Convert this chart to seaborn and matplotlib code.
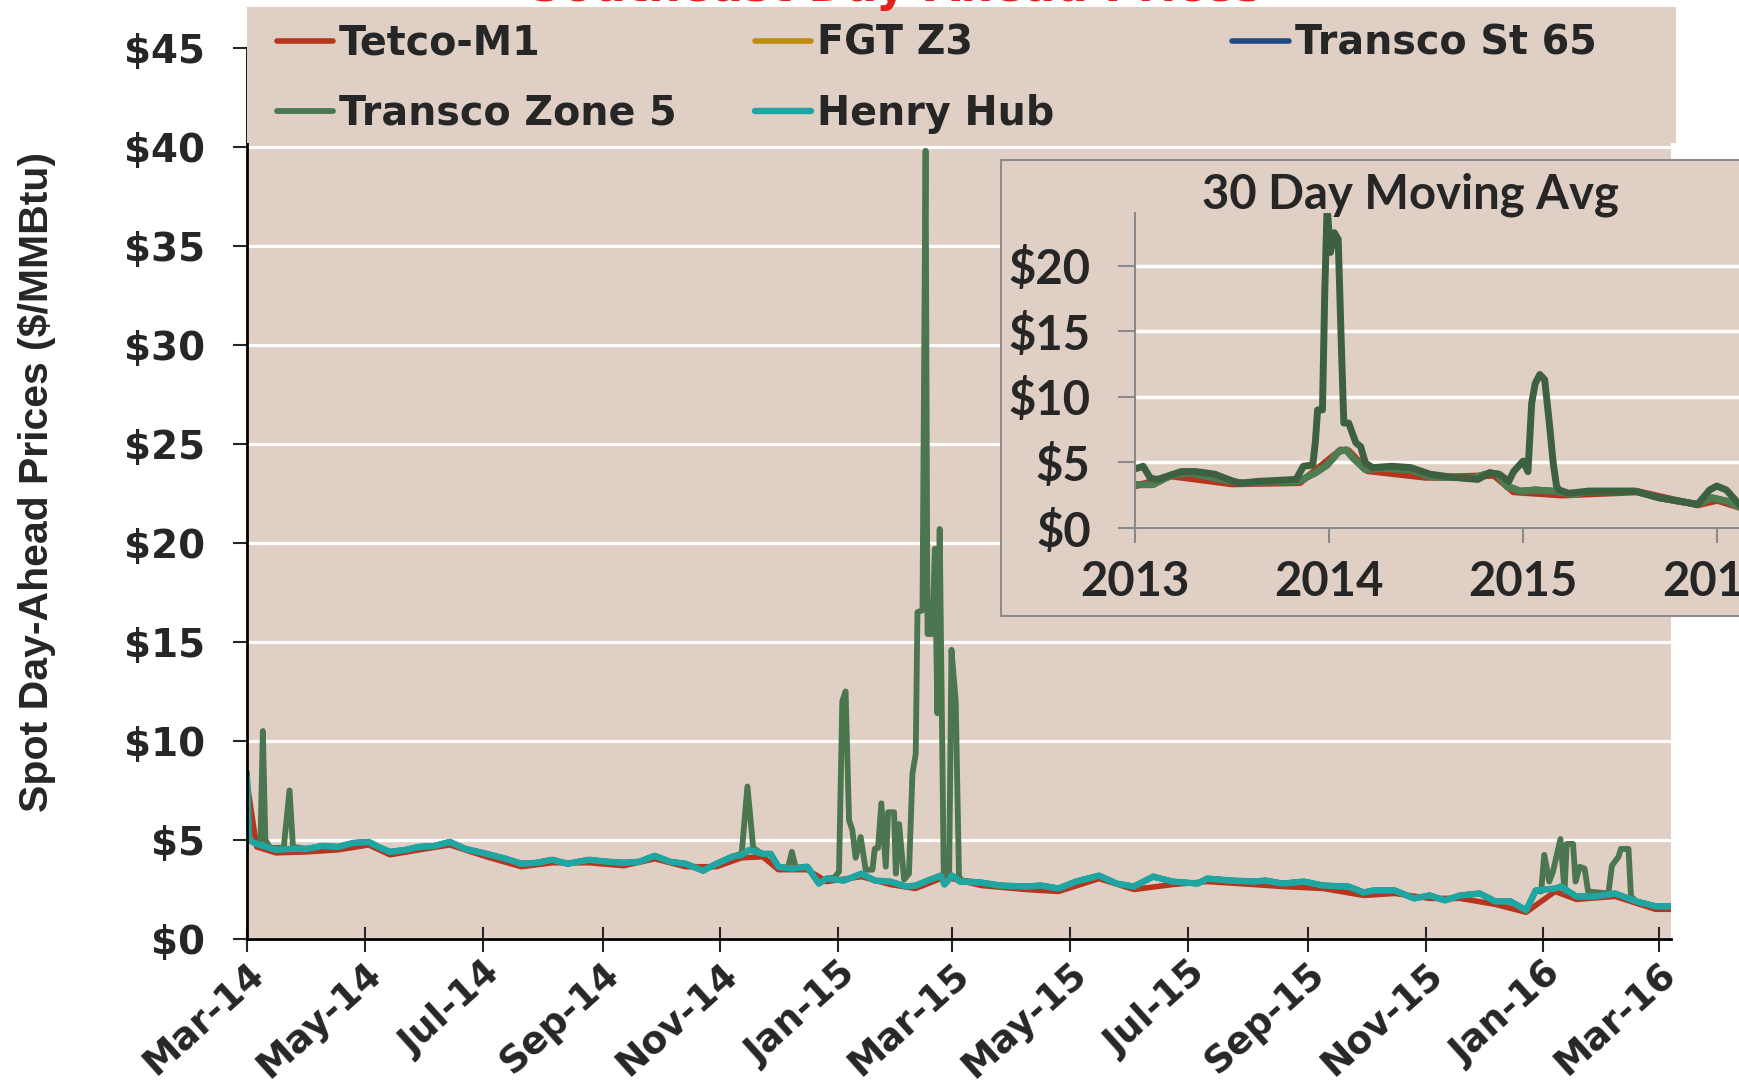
import pandas as pd
import matplotlib.pyplot as plt
import matplotlib.dates as mdates
from matplotlib.patches import Rectangle
from matplotlib.ticker import FuncFormatter
import seaborn as sns

sns.set_style('white')
plt.rcParams['font.family'] = ['DejaVu Sans']

BG = '#e0cfc4'
W, H = 1739, 1086

# -- данные: дни от 1 марта 2014 --
start = pd.Timestamp('2014-03-01')

hh_day = [0, 1, 5, 10, 15, 23, 31, 39, 47, 55, 63, 68, 74, 82, 89, 97, 105, 113, 124, 134,
          142, 150, 158, 166, 177, 187, 195, 203, 211, 219, 227, 236, 243, 251, 256, 260, 267, 271, 275, 282,
          290, 296, 300, 309, 318, 325, 333, 341, 346, 351, 359, 361, 365, 369, 380, 390, 403, 411, 420, 429,
          441, 450, 459, 469, 479, 492, 497, 510, 521, 527, 536, 547, 557, 570, 578, 583, 594, 604, 612, 620,
          628, 638, 646, 654, 662, 667, 677, 680, 688, 698, 708, 719, 729, 737]
hh_val = [8.1, 5.0, 4.8, 4.65, 4.5, 4.55, 4.55, 4.7, 4.65, 4.85, 4.9, 4.65, 4.4, 4.5, 4.65, 4.7, 4.9, 4.55, 4.3, 4.05,
          3.8, 3.85, 4.0, 3.8, 4.0, 3.9, 3.85, 3.9, 4.2, 3.9, 3.8, 3.45, 3.8, 4.15, 4.25, 4.5, 4.3, 4.3, 3.65, 3.55,
          3.65, 2.8, 3.05, 2.95, 3.3, 2.95, 2.9, 2.65, 2.7, 2.9, 3.2, 2.75, 3.2, 2.9, 2.85, 2.7, 2.65, 2.7, 2.55, 2.9,
          3.2, 2.8, 2.65, 3.15, 2.9, 2.8, 3.05, 2.95, 2.9, 2.95, 2.8, 2.9, 2.7, 2.65, 2.35, 2.45, 2.45, 2.05, 2.2, 1.95,
          2.2, 2.3, 1.9, 1.9, 1.45, 2.45, 2.55, 2.65, 2.15, 2.15, 2.3, 1.9, 1.65, 1.65]

tetco_day = [0, 5, 15, 31, 47, 63, 74, 89, 105, 124, 142, 158, 177, 195, 211, 227, 243, 256, 267, 275,
             290, 300, 318, 333, 346, 359, 365, 380, 403, 420, 441, 459, 479, 497, 521, 536, 557, 578, 594, 612,
             628, 646, 662, 677, 688, 708, 729, 737]
tetco_val = [7.9, 4.65, 4.35, 4.4, 4.5, 4.75, 4.25, 4.5, 4.75, 4.15, 3.65, 3.85, 3.85, 3.7, 4.05, 3.65, 3.65, 4.1,
             4.15, 3.5, 3.5, 2.9, 3.15, 2.75, 2.55, 3.05, 3.05, 2.7, 2.5, 2.4, 3.05, 2.5, 2.75, 2.9, 2.75, 2.65,
             2.55, 2.2, 2.3, 2.05, 2.05, 1.75, 1.35, 2.4, 2.0, 2.15, 1.5, 1.5]

# всплески Transco Zone 5
tz5_day = [0, 1, 5, 7, 8.2, 9.5, 12, 19, 22, 23.8,
           254, 256, 259, 262, 265,
           280, 282, 284,
           304, 306.4, 308.1, 309.8, 311.6, 313.3, 315, 317.6, 320.2, 323.7, 324.9, 326.6, 328.3, 330.6, 331.8,
           334.9, 335.8, 337.5, 340.1, 342.6, 344.4, 346.1, 347, 349.6, 351.2, 352.2, 354.7, 356, 357.3, 358.5,
           360.6, 363.4, 364.6, 366.8, 368.5, 370,
           667, 669.8, 671.4, 674, 675.9, 679.8, 681.9, 683, 686.3, 687.6, 689.7, 692.3, 694.1, 704.6, 706.4,
           709.8, 711.1, 715, 716.3, 719]
tz5_val = [8.4, 5.0, 4.8, 5.0, 10.5, 5.0, 4.6, 4.6, 7.5, 4.65,
           4.25, 4.3, 7.7, 4.6, 4.4,
           3.6, 4.4, 3.6,
           3.1, 3.4, 12.0, 12.5, 6.0, 5.5, 4.1, 5.15, 3.5, 3.5, 4.55, 4.6, 6.85, 3.65, 6.4,
           6.4, 3.3, 5.8, 3.0, 3.3, 8.35, 9.35, 16.5, 16.6, 39.8, 15.4, 15.4, 19.7, 11.4, 20.7,
           3.3, 3.3, 14.6, 12.0, 3.15, 2.95,
           2.45, 2.4, 4.25, 2.9, 3.4, 5.05, 2.4, 4.8, 4.8, 2.9, 3.65, 3.55, 2.4, 2.3, 3.7,
           4.15, 4.55, 4.55, 2.15, 1.9]
spike_windows = [(0, 25), (254, 266), (279, 285), (303, 371), (666, 720)]

# вставка: 30-дневное скользящее среднее (годы)
in_tz5_year = [2013.0, 2013.042, 2013.079, 2013.116, 2013.239, 2013.313, 2013.411, 2013.534, 2013.633, 2013.83,
               2013.867, 2013.916, 2013.929, 2013.941, 2013.966, 2013.978, 2013.99, 2014.007, 2014.027, 2014.047,
               2014.064, 2014.076, 2014.101, 2014.138, 2014.163, 2014.187, 2014.224, 2014.323, 2014.421, 2014.52,
               2014.618, 2014.766, 2014.828, 2014.877, 2014.926, 2014.951, 2015.0, 2015.025, 2015.044, 2015.062,
               2015.086, 2015.111, 2015.135, 2015.155, 2015.172, 2015.185, 2015.234, 2015.333, 2015.579, 2015.702,
               2015.899, 2015.961, 2015.998, 2016.047, 2016.12]
in_tz5_val = [4.5, 4.7, 3.8, 3.7, 4.3, 4.3, 4.1, 3.4, 3.55, 3.7,
              4.7, 4.8, 6.5, 9.0, 9.0, 18.1, 24.5, 21.0, 22.5, 22.0,
              13.6, 8.0, 8.0, 6.5, 6.2, 4.95, 4.6, 4.7, 4.6, 4.1,
              3.9, 3.7, 4.2, 4.1, 3.55, 4.3, 5.1, 4.3, 9.5, 11.0,
              11.7, 11.3, 8.0, 4.95, 3.2, 2.9, 2.65, 2.8, 2.8, 2.3,
              1.8, 2.9, 3.2, 2.9, 1.7]
in_hub_year = [2013.0, 2013.091, 2013.19, 2013.288, 2013.411, 2013.559, 2013.732, 2013.842, 2013.929, 2013.99,
               2014.052, 2014.089, 2014.126, 2014.187, 2014.273, 2014.421, 2014.52, 2014.741, 2014.828, 2014.865,
               2014.914, 2014.988, 2015.062, 2015.16, 2015.259, 2015.333, 2015.579, 2015.702, 2015.899, 2015.973,
               2016.047, 2016.12]
in_hub_val = [3.3, 3.3, 4.05, 4.2, 3.8, 3.4, 3.55, 3.55, 4.2, 4.8,
              5.85, 5.95, 5.3, 4.45, 4.55, 4.45, 3.9, 3.8, 4.2, 4.1,
              3.2, 2.8, 2.9, 2.8, 2.55, 2.8, 2.8, 2.3, 1.8, 2.3,
              2.05, 1.6]
in_tetco_year = [2013.0, 2013.19, 2013.5, 2013.85, 2014.06, 2014.1, 2014.2, 2014.5, 2014.85, 2014.95,
                 2015.2, 2015.6, 2015.9, 2016.0, 2016.12]
in_tetco_val = [3.2, 3.95, 3.35, 3.45, 5.95, 5.9, 4.35, 3.85, 4.0, 2.75,
                2.5, 2.75, 1.75, 2.1, 1.55]

inset_years = [2013, 2014, 2015, 2016]
y_ticks = [0, 5, 10, 15, 20, 25, 30, 35, 40, 45]
inset_y_ticks = [0, 5, 10, 15, 20]

# Transco Zone 5 = Henry Hub вне окон всплесков + точки всплесков
tz5_pts = [(d, v) for d, v in zip(hh_day, hh_val)
           if not any(a <= d <= b for a, b in spike_windows)]
tz5_pts = sorted(tz5_pts + list(zip(tz5_day, tz5_val)))


def to_dates(days):
    return start + pd.to_timedelta(days, unit='D')


fig = plt.figure(figsize=(W / 100, H / 100), dpi=100)
ax = fig.add_axes([247 / W, 1 - 939 / H, (1671 - 247) / W, (939 - 47.7) / H])
ax.set_facecolor(BG)

series = [
    ('Tetco-M1', tetco_day, tetco_val, '#b5351f', 4.0),
    ('FGT Z3', hh_day, hh_val, '#bd8c0c', 4.0),
    ('Transco St 65', hh_day, hh_val, '#1f4a86', 4.0),
    ('Transco Zone 5', [p[0] for p in tz5_pts], [p[1] for p in tz5_pts], '#4b7650', 4.2),
    ('Henry Hub', hh_day, hh_val, '#1fa6a3', 4.6),
]
for name, d, v, c, lw in series:
    sns.lineplot(x=to_dates(d), y=v, ax=ax, color=c, linewidth=lw,
                 label=name, legend=False, estimator=None, sort=False)

ax.set_ylim(0, 45)
ax.set_xlim(start, pd.Timestamp('2016-03-07'))
ax.set_yticks(y_ticks)
ax.yaxis.set_major_formatter(FuncFormatter(lambda x, p: '${:.0f}'.format(x)))
ax.xaxis.set_major_locator(mdates.MonthLocator(bymonth=[1, 3, 5, 7, 9, 11]))
ax.xaxis.set_major_formatter(mdates.DateFormatter('%b-%y'))
ax.yaxis.grid(True, color='white', linewidth=2.3)
ax.xaxis.grid(False)
ax.set_axisbelow(True)
for s in ['top', 'right']:
    ax.spines[s].set_visible(False)
for s in ['left', 'bottom']:
    ax.spines[s].set_color('black')
    ax.spines[s].set_linewidth(2)
ax.tick_params(axis='y', direction='out', length=10, width=1.5, pad=20,
               labelsize=28, left=True)
ax.tick_params(axis='x', direction='inout', length=18, width=1.5, pad=3,
               labelsize=27, bottom=True)
for lab in ax.get_yticklabels() + ax.get_xticklabels():
    lab.set_fontweight('bold')
plt.setp(ax.get_xticklabels(), rotation=42, ha='right', rotation_mode='anchor')
ax.set_xlabel('')
ax.set_ylabel('Spot Day-Ahead Prices ($/MMBtu)', family='Liberation Sans',
              fontweight='bold', fontsize=29.5)
ax.yaxis.set_label_coords(-0.1343, 0.5127)

# Легенда на тонированной плашке
ax.add_patch(Rectangle((0, 0.8931), 1.0035, 0.1526, transform=ax.transAxes,
                       facecolor=BG, edgecolor='none', clip_on=False, zorder=3))
handles, labels = ax.get_legend_handles_labels()
hmap = dict(zip(labels, handles))
cols = [(['Tetco-M1', 'Transco Zone 5'], 0.0211),
        (['FGT Z3', 'Henry Hub'], 0.3565),
        (['Transco St 65'], 0.692)]
legends = []
for names, x0 in cols:
    lg = ax.legend([hmap[n] for n in names], names, loc='upper left',
                   bbox_to_anchor=(x0, 1.0271), bbox_transform=ax.transAxes,
                   frameon=False, prop={'weight': 'bold', 'size': 28.5},
                   handlelength=1.42, handletextpad=0.15, labelspacing=0.76,
                   borderpad=0, borderaxespad=0)
    lg.set_zorder(5)
    legends.append(lg)
for lg in legends[:-1]:
    ax.add_artist(lg)

# Заголовок (обрезан сверху)
fig.text(895 / W, 1 - 1.0 / H, 'Southeast Day-Ahead Prices', color='#e3231b',
         ha='center', va='baseline', fontsize=33, fontweight='bold')

# -- Вставка --
frame_ax = fig.add_axes([1000.5 / W, 1 - 616 / H, 0.5, (616 - 160) / H])
frame_ax.set_facecolor(BG)
frame_ax.set_xticks([])
frame_ax.set_yticks([])
for s in frame_ax.spines.values():
    s.set_color('#8c8c8c')
    s.set_linewidth(1.5)

in_ax = fig.add_axes([1135 / W, 1 - 528 / H, (1756 - 1135) / W, (528 - 213) / H])
in_ax.set_facecolor(BG)
inset_series = [
    (in_tetco_year, in_tetco_val, '#b5351f', 4.8),
    (in_hub_year, in_hub_val, '#bd8c0c', 4.8),
    (in_hub_year, in_hub_val, '#1f4a86', 4.8),
    (in_hub_year, in_hub_val, '#4f7d52', 5.0),
    (in_tz5_year, in_tz5_val, '#3d6041', 5.0),
]
for yr, v, c, lw in inset_series:
    sns.lineplot(x=yr, y=v, ax=in_ax, color=c, linewidth=lw, legend=False,
                 estimator=None, sort=False)
in_ax.set_xlim(2013, 2016.2)
in_ax.set_ylim(0, 24)
in_ax.set_xticks(inset_years)
in_ax.set_xticklabels([str(y) for y in inset_years])
in_ax.set_yticks(inset_y_ticks)
in_ax.set_yticklabels(['${}'.format(t) for t in inset_y_ticks])
in_ax.yaxis.grid(True, color='white', linewidth=2.5)
in_ax.xaxis.grid(False)
in_ax.set_axisbelow(True)
for s in ['top', 'right']:
    in_ax.spines[s].set_visible(False)
for s in ['left', 'bottom']:
    in_ax.spines[s].set_color('#8a8a8a')
    in_ax.spines[s].set_linewidth(1.5)
in_ax.tick_params(axis='y', direction='out', length=12, width=1.5, color='#8a8a8a',
                  pad=20, left=True)
in_ax.tick_params(axis='x', direction='out', length=11, width=1.5, color='#8a8a8a',
                  pad=12, bottom=True)
for lab in in_ax.get_xticklabels() + in_ax.get_yticklabels():
    lab.set_family('Lato')
    lab.set_fontweight('bold')
    lab.set_fontsize(34)
in_ax.set_xlabel('')
in_ax.set_ylabel('')
fig.text(1410 / W, 1 - 195 / H, '30 Day Moving Avg', ha='center', va='center',
         family='Lato', fontweight='bold', fontsize=34)

fig.savefig('out.png', dpi=100)
plt.close(fig)
